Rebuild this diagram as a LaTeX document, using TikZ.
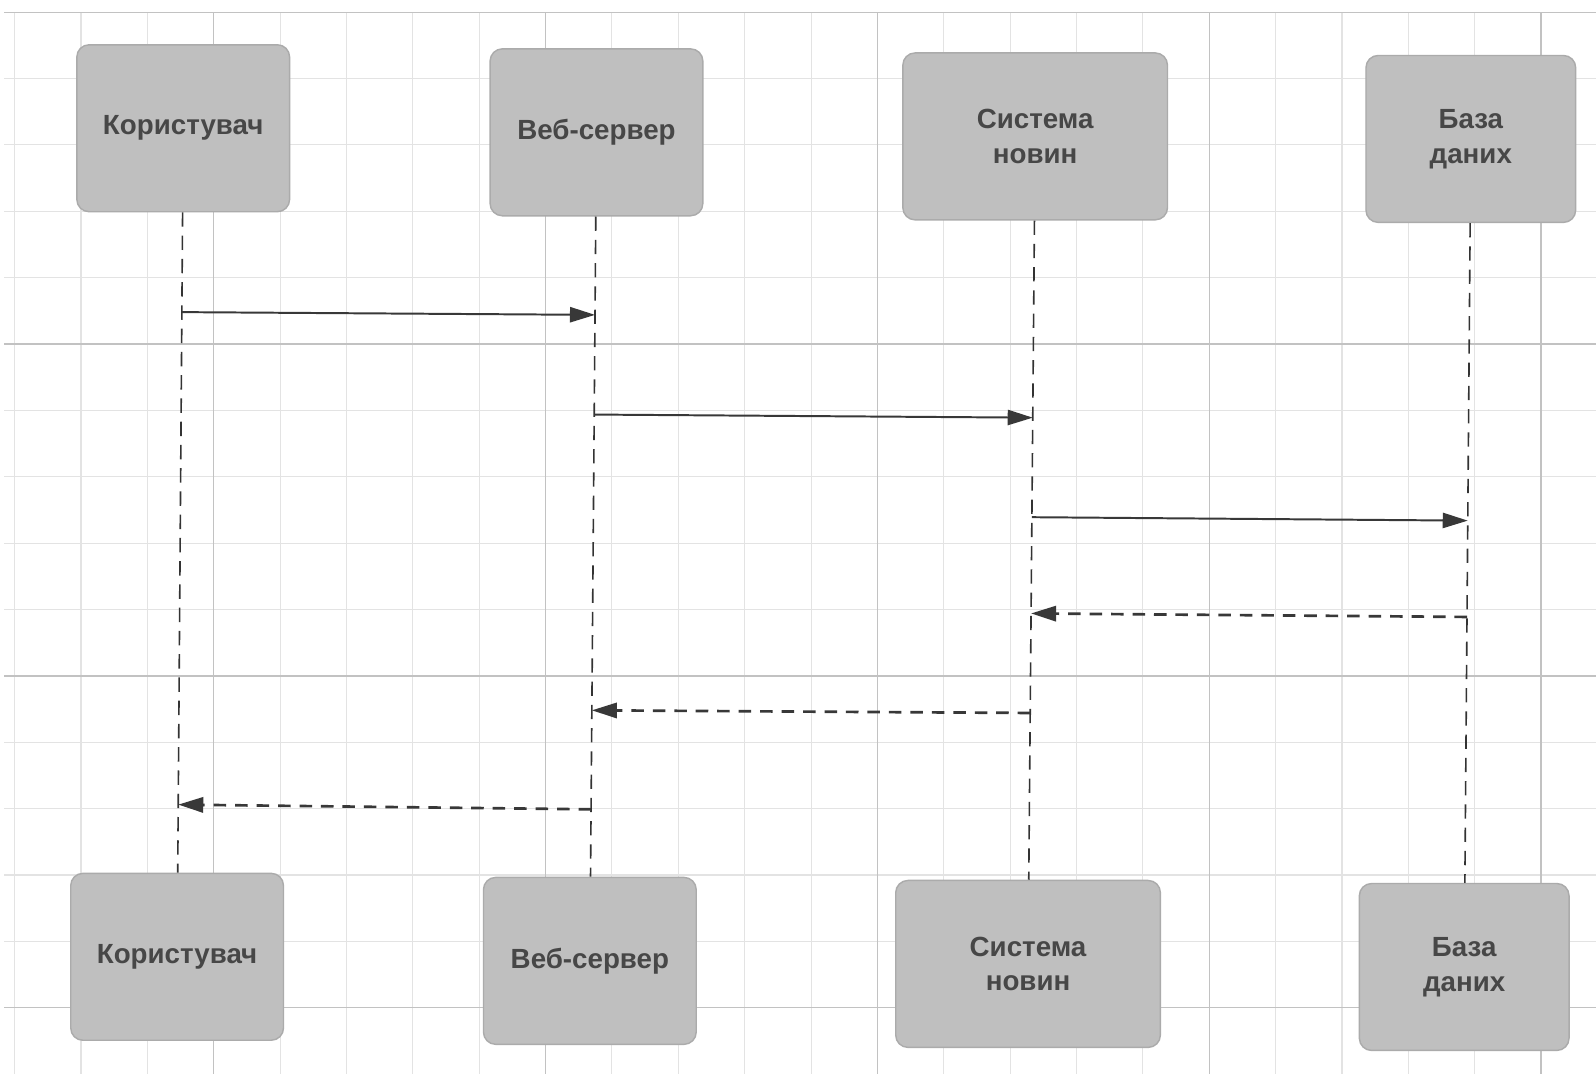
\documentclass[tikz,border=0pt]{standalone}
\usepackage{fontspec}
\setmainfont{Liberation Sans}
\usetikzlibrary{arrows.meta}
\tikzstyle{minor grid}=[draw=black!11, line width=0.6pt]
\tikzstyle{major grid}=[draw=black!24, line width=0.8pt]
\tikzstyle{actor}=[rectangle, rounded corners=0.24cm, fill=black!25, draw=black!33, line width=0.8pt,
  minimum width=4.18cm, minimum height=3.28cm, align=center, text=black!72,
  font=\bfseries\fontsize{15.5pt}{19.5pt}\selectfont]
\tikzstyle{lifeline}=[draw=black!80, line width=0.9pt, dash pattern=on 8pt off 5pt]
\tikzstyle{call}=[draw=black!78, line width=1.1pt, -{Triangle[length=14pt,width=8.5pt]}]
\tikzstyle{reply}=[call, line width=1.5pt, dash pattern=on 7pt off 5pt]

\begin{document}
\begin{tikzpicture}
			% Rahmen festlegen
			\fill[white] (0,0) rectangle (31.36,-21.1);
			\useasboundingbox (0,0) rectangle (31.36,-21.1);
			% Gitter zeichnen
			\begin{scope}[shift={(0.288,-0.24)}]
				\draw[minor grid, step=1.304] (-0.2,0) grid (31.07,-20.86);
			\end{scope}
			\begin{scope}[shift={(-2.32,-0.24)}]
				\draw[major grid, step=6.52] (2.4,0) grid (33.68,-20.86);
			\end{scope}
			% Objekte oben
			\node[actor] (ut) at (3.60,-2.52) {Користувач};
			\node[actor] (wt) at (11.72,-2.60) {Веб-сервер};
			\node[actor, minimum width=5.2cm] (st) at (20.34,-2.68) {Система\\новин};
			\node[actor, minimum width=4.12cm] (dt) at (28.90,-2.73) {База\\даних};
			% Objekte unten
			\node[actor] (ub) at (3.48,-18.80) {Користувач};
			\node[actor] (wb) at (11.59,-18.88) {Веб-сервер};
			\node[actor, minimum width=5.2cm] (sb) at (20.20,-18.94) {Система\\новин};
			\node[actor, minimum width=4.12cm] (db) at (28.77,-19.00) {База\\даних};
			% Lebenslinien zeichnen
			\draw[lifeline] (ut) -- (ub) coordinate[pos=.151] (u1) coordinate[pos=.897] (u6);
			\draw[lifeline] (wt) -- (wb) coordinate[pos=.149] (w1) coordinate[pos=.30] (w2)
				coordinate[pos=.748] (w5) coordinate[pos=.898] (w6);
			\draw[lifeline] (st) -- (sb) coordinate[pos=.299] (s2) coordinate[pos=.45] (s3)
				coordinate[pos=.596] (s4) coordinate[pos=.747] (s5);
			\draw[lifeline] (dt) -- (db) coordinate[pos=.451] (d3) coordinate[pos=.597] (d4);
			% Nachrichten zeichnen
			\draw[call] (u1) -- (w1);
			\draw[call] (w2) -- (s2);
			\draw[call] (s3) -- (d3);
			\draw[reply] (d4) -- (s4);
			\draw[reply] (s5) -- (w5);
			\draw[reply] (w6) -- (u6);
\end{tikzpicture}
\end{document}
